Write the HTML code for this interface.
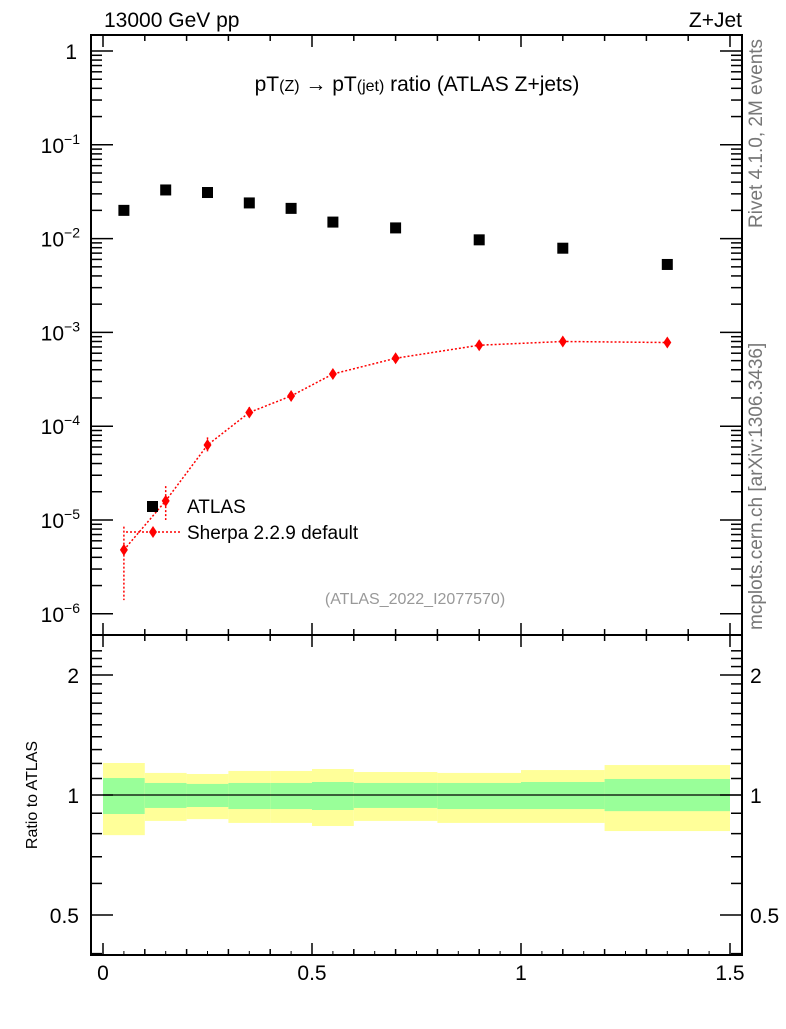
<!DOCTYPE html>
<html><head><meta charset="utf-8"><style>
body{margin:0;background:#fff;}
svg{font-family:"Liberation Sans",sans-serif;}
</style></head><body>
<svg id="c" width="786" height="1024" viewBox="0 0 786 1024" xmlns="http://www.w3.org/2000/svg">
<rect width="786" height="1024" fill="#fff"/>
<g id="bands"></g>
<g id="marks"></g>
<g id="axes" stroke="#000" fill="none"></g>
<text x="104" y="27" font-size="21">13000 GeV pp</text>
<text x="742" y="27" font-size="21" text-anchor="end">Z+Jet</text>
<text x="417" y="91" font-size="21" text-anchor="middle">pT<tspan font-size="16">(Z)</tspan> → pT<tspan font-size="16">(jet)</tspan> ratio (ATLAS Z+jets)</text>
<text x="415" y="604" font-size="16" fill="#999" text-anchor="middle">(ATLAS_2022_I2077570)</text>
<text transform="translate(762,228) rotate(-90)" font-size="19" fill="#777">Rivet 4.1.0,  2M events</text>
<text transform="translate(762,630) rotate(-90)" font-size="19" fill="#777">mcplots.cern.ch [arXiv:1306.3436]</text>
<text transform="translate(37,795) rotate(-90)" font-size="16" text-anchor="middle">Ratio to ATLAS</text>
<g>
<rect x="147" y="501" width="11" height="11" fill="#000"/>
<text x="187" y="513" font-size="19">ATLAS</text>
<line x1="126" y1="532" x2="180" y2="532" stroke="red" stroke-width="1.5" stroke-dasharray="2,2"/>
<path d="M153 526 L157 532 L153 538 L149 532Z" fill="red"/>
<text x="187" y="539" font-size="19">Sherpa 2.2.9 default</text>
</g>
</svg>
<script>
const xCenters=[0.05,0.15,0.25,0.35,0.45,0.55,0.7,0.9,1.1,1.35];
const atlasValues=[0.020,0.033,0.031,0.024,0.021,0.015,0.013,0.0097,0.0079,0.0053];
const sherpaValues=[4.8e-6,1.6e-5,6.3e-5,1.4e-4,2.1e-4,3.6e-4,5.3e-4,7.3e-4,8.0e-4,7.8e-4];
const sherpaUp=[8.5e-6,2.3e-5,7.6e-5,1.6e-4,2.3e-4,3.8e-4,5.6e-4,7.6e-4,8.3e-4,8.1e-4];
const sherpaDown=[1.4e-6,1.0e-5,5.2e-5,1.25e-4,1.95e-4,3.4e-4,5.0e-4,7.0e-4,7.7e-4,7.5e-4];
const binEdges=[0,0.1,0.2,0.3,0.4,0.5,0.6,0.8,1.0,1.2,1.5];
const yellowUp=[1.203,1.136,1.129,1.149,1.149,1.162,1.142,1.136,1.155,1.189];
const yellowDown=[0.793,0.861,0.870,0.851,0.851,0.836,0.861,0.851,0.851,0.812];
const greenUp=[1.103,1.072,1.066,1.072,1.072,1.078,1.072,1.072,1.078,1.097];
const greenDown=[0.896,0.928,0.933,0.922,0.922,0.917,0.928,0.922,0.922,0.911];
const xTicks=[0,0.5,1,1.5];
const xTickLabels=["0","0.5","1","1.5"];
const ratioTicks=[0.5,1,2];

const NS="http://www.w3.org/2000/svg";
const X=v=>103+v*418;
const Y=v=>51-Math.log10(v)*93.8;
const R=v=>795-Math.log10(v)*398.6;
const L=91,Rt=742,T=35,M=635,B=955;
function mk(tag,attrs,parent){const e=document.createElementNS(NS,tag);for(const k in attrs)e.setAttribute(k,attrs[k]);parent.appendChild(e);return e;}
const bands=document.getElementById('bands'),marks=document.getElementById('marks'),axes=document.getElementById('axes'),svg=document.getElementById('c');
for(let i=0;i<yellowUp.length;i++){
 const x0=X(binEdges[i]),x1=X(binEdges[i+1]);
 const y=mk('rect',{x:x0,y:R(yellowUp[i]),width:x1-x0,height:R(yellowDown[i])-R(yellowUp[i]),fill:'#ffff99'},bands);
 
 
 const g=mk('rect',{x:x0,y:R(greenUp[i]),width:x1-x0,height:R(greenDown[i])-R(greenUp[i]),fill:'#99ff99'},bands);
 
 
}
const ref=mk('line',{x1:X(0),x2:Rt,y1:R(1),y2:R(1),stroke:'#000','stroke-width':1.2},bands);


let d='';xCenters.forEach((x,i)=>{d+=(i?'L':'M')+X(x)+' '+Y(sherpaValues[i]);});
const pl=mk('path',{d:d,stroke:'red','stroke-width':1.5,fill:'none','stroke-dasharray':'2,2'},marks);


xCenters.forEach((x,i)=>{
 const px=X(x),py=Y(sherpaValues[i]);
 const eb=mk('line',{x1:px,x2:px,y1:Y(sherpaUp[i]),y2:Y(sherpaDown[i]),stroke:'red','stroke-width':1.5,'stroke-dasharray':'2,2'},marks);
 
 
 const p=mk('path',{d:`M${px} ${py-6}L${px+4} ${py}L${px} ${py+6}L${px-4} ${py}Z`,fill:'red'},marks);
 
 
 const a=mk('rect',{x:X(x)-5.5,y:Y(atlasValues[i])-5.5,width:11,height:11,fill:'#000'},marks);
 
 
});
mk('rect',{x:L,y:T,width:Rt-L,height:M-T,'stroke-width':2},axes);
mk('rect',{x:L,y:M,width:Rt-L,height:B-M,'stroke-width':2},axes);
for(let k=0;k<=15;k++){const v=k/10,px=X(v),maj=(k%5==0),len=maj?12:6;
 [[T,1],[M,-1],[M,1],[B,-1]].forEach(([y0,s])=>mk('line',{x1:px,x2:px,y1:y0,y2:y0+s*len,'stroke-width':1.5},axes));
 if(k<15){const mx=X(v+0.05);mk('line',{x1:mx,x2:mx,y1:B,y2:B-4,'stroke-width':1},axes);}
}
xTicks.forEach((v,i)=>{const t=mk('text',{x:X(v),y:980,'font-size':21,'text-anchor':'middle',fill:'#000',stroke:'none'},svg);t.textContent=xTickLabels[i];
 
 });
for(let e=-6;e<=0;e++){for(let m=1;m<=9;m++){const v=m*Math.pow(10,e),py=Y(v);if(py<T||py>M)continue;const len=m==1?22:11;
 mk('line',{x1:L,x2:L+len,y1:py,y2:py,'stroke-width':1.5},axes);mk('line',{x1:Rt,x2:Rt-len,y1:py,y2:py,'stroke-width':1.5},axes);}}
for(let e=-6;e<=0;e++){const py=Y(Math.pow(10,e));const t=mk('text',{x:e==0?77:80,y:py+8,'font-size':21,'text-anchor':'end',fill:'#000',stroke:'none'},svg);
 if(e==0)t.textContent='1';else{t.innerHTML='10<tspan dy="-9" font-size="14">'+(e==-1?'−1':'−'+(-e))+'</tspan>';}
 
 }
for(let k=4;k<=23;k++){const v=k/10;const py=R(v);if(py<M||py>B)continue;const maj=ratioTicks.some(r=>Math.abs(r-v)<1e-6);const len=maj?22:11;
 mk('line',{x1:L,x2:L+len,y1:py,y2:py,'stroke-width':1.5},axes);mk('line',{x1:Rt,x2:Rt-len,y1:py,y2:py,'stroke-width':1.5},axes);}
ratioTicks.forEach(v=>{const lab=v==0.5?'0.5':String(v);
 const t=mk('text',{x:79,y:R(v)+8,'font-size':21,'text-anchor':'end',fill:'#000',stroke:'none'},svg);t.textContent=lab;
 
 
 const t2=mk('text',{x:750,y:R(v)+8,'font-size':21,fill:'#000',stroke:'none'},svg);t2.textContent=lab;
 
 });
</script>
</body></html>
